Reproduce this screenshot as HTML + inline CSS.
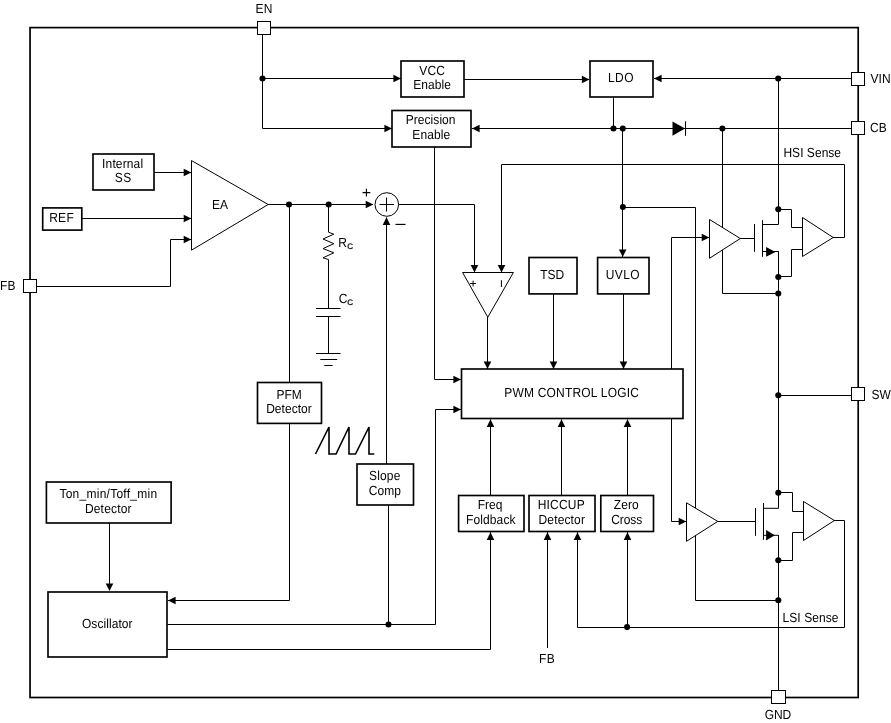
<!DOCTYPE html>
<html><head><meta charset="utf-8"><title>Functional Block Diagram</title>
<style>
html,body{margin:0;padding:0;background:#fff;}
svg{display:block;will-change:transform;}
svg text{font-family:"Liberation Sans",Arial,Helvetica,sans-serif;font-size:12px;fill:#000;text-rendering:geometricPrecision;}
</style></head><body>
<svg width="891" height="723" viewBox="0 0 891 723">
<rect x="0" y="0" width="891" height="723" fill="#fff"/>
<rect x="30.05" y="27.6" width="828.15" height="669.9" fill="none" stroke="#000" stroke-width="1.7"/>
<path d="M262.5 28 L262.5 128.5 L392 128.5" fill="none" stroke="#000" stroke-width="1" />
<path d="M262.5 78.5 L401 78.5" fill="none" stroke="#000" stroke-width="1" />
<circle cx="262.5" cy="78.5" r="3.05" fill="#000"/>
<polygon points="401,78.5 393.4,74.7 393.4,82.3" fill="#000"/>
<polygon points="392,128.5 384.4,124.7 384.4,132.3" fill="#000"/>
<path d="M464 79.5 L589 79.5" fill="none" stroke="#000" stroke-width="1" />
<polygon points="589.5,79.5 581.9,75.7 581.9,83.3" fill="#000"/>
<path d="M858 78.5 L654 78.5" fill="none" stroke="#000" stroke-width="1" />
<polygon points="654,78.5 661.6,74.7 661.6,82.3" fill="#000"/>
<circle cx="778.2" cy="78.6" r="3.05" fill="#000"/>
<path d="M778.5 78.5 L778.5 209.5" fill="none" stroke="#000" stroke-width="1" />
<path d="M613.5 97 L613.5 128.5" fill="none" stroke="#000" stroke-width="1" />
<path d="M858 128.5 L472 128.5" fill="none" stroke="#000" stroke-width="1" />
<polygon points="472,128.5 479.6,124.7 479.6,132.3" fill="#000"/>
<circle cx="613.5" cy="128.5" r="3.05" fill="#000"/>
<circle cx="622.8" cy="128.6" r="3.05" fill="#000"/>
<circle cx="722.4" cy="128.6" r="3.05" fill="#000"/>
<polygon points="672.5,121.5 672.5,135.8 685,128.5" fill="#000"/>
<path d="M685.5 121.3 L685.5 135.8" fill="none" stroke="#000" stroke-width="1" />
<path d="M622.5 128.5 L622.5 257" fill="none" stroke="#000" stroke-width="1" />
<polygon points="622.7,257 618.9000000000001,249.4 626.5,249.4" fill="#000"/>
<circle cx="622.9" cy="207.1" r="3.0" fill="#000"/>
<path d="M622.5 207.5 L695.5 207.5 L695.5 600.5 L778.5 600.5" fill="none" stroke="#000" stroke-width="1" />
<path d="M722.5 128.5 L722.5 293.5 L778.5 293.5" fill="none" stroke="#000" stroke-width="1" />
<path d="M833 237.5 L844.5 237.5 L844.5 164.5 L501.5 164.5 L501.5 272" fill="none" stroke="#000" stroke-width="1" />
<polygon points="501.5,272.5 497.7,264.9 505.3,264.9" fill="#000"/>
<path d="M154 172.5 L191 172.5" fill="none" stroke="#000" stroke-width="1" />
<polygon points="191.3,172.5 183.70000000000002,168.7 183.70000000000002,176.3" fill="#000"/>
<path d="M82 218.5 L191 218.5" fill="none" stroke="#000" stroke-width="1" />
<polygon points="191.3,218.5 183.70000000000002,214.7 183.70000000000002,222.3" fill="#000"/>
<path d="M30 286.5 L170.5 286.5 L170.5 239.5 L191 239.5" fill="none" stroke="#000" stroke-width="1" />
<polygon points="191.3,239.5 183.70000000000002,235.7 183.70000000000002,243.3" fill="#000"/>
<path d="M268 204.5 L373 204.5" fill="none" stroke="#000" stroke-width="1" />
<polygon points="373.3,204.5 365.7,200.7 365.7,208.3" fill="#000"/>
<circle cx="289" cy="204.5" r="3.05" fill="#000"/>
<circle cx="328.7" cy="204.5" r="3.05" fill="#000"/>
<path d="M289.5 204.5 L289.5 600.5 L168 600.5" fill="none" stroke="#000" stroke-width="1" />
<polygon points="168,600.5 175.6,596.7 175.6,604.3" fill="#000"/>
<path d="M328.5 204.5 L328.5 232.2 L333.8 234.2 L323 239 L333.8 243.7 L323 248.6 L333.8 252.8 L323 257.8 L328.5 259.6 L328.5 308.5" fill="none" stroke="#000" stroke-width="1" />
<path d="M316 308.5 L340.5 308.5" fill="none" stroke="#000" stroke-width="1" />
<path d="M316 316.5 L340.5 316.5" fill="none" stroke="#000" stroke-width="1" />
<path d="M328.5 316.5 L328.5 353.5" fill="none" stroke="#000" stroke-width="1" />
<path d="M316 353.5 L340.5 353.5" fill="none" stroke="#000" stroke-width="1" />
<path d="M320.3 359.5 L337.2 359.5" fill="none" stroke="#000" stroke-width="1" />
<path d="M324.3 365.5 L332.6 365.5" fill="none" stroke="#000" stroke-width="1" />
<circle cx="386.8" cy="204.5" r="11.8" fill="#fff" stroke="#000" stroke-width="1"/>
<path d="M379.5 204.5 L394 204.5" fill="none" stroke="#000" stroke-width="1" />
<path d="M386.5 197.5 L386.5 211.5" fill="none" stroke="#000" stroke-width="1" />
<path d="M398.6 204.5 L474.5 204.5 L474.5 272" fill="none" stroke="#000" stroke-width="1" />
<polygon points="474.5,272.5 470.7,264.9 478.3,264.9" fill="#000"/>
<path d="M386.5 464 L386.5 217.5" fill="none" stroke="#000" stroke-width="1" />
<polygon points="386.5,217.3 382.7,224.9 390.3,224.9" fill="#000"/>
<path d="M388.5 505 L388.5 624.5" fill="none" stroke="#000" stroke-width="1" />
<path d="M167.5 624.5 L435.5 624.5 L435.5 409.5 L461 409.5" fill="none" stroke="#000" stroke-width="1" />
<polygon points="461,409.5 453.4,405.7 453.4,413.3" fill="#000"/>
<circle cx="388.5" cy="624.5" r="3.05" fill="#000"/>
<path d="M167.5 649.5 L490.5 649.5 L490.5 532" fill="none" stroke="#000" stroke-width="1" />
<polygon points="490.5,532.3 486.7,539.9 494.3,539.9" fill="#000"/>
<path d="M434.5 147 L434.5 379.5 L461 379.5" fill="none" stroke="#000" stroke-width="1" />
<polygon points="461,379.5 453.4,375.7 453.4,383.3" fill="#000"/>
<path d="M487.5 317 L487.5 369" fill="none" stroke="#000" stroke-width="1" />
<polygon points="487.5,369 483.7,361.4 491.3,361.4" fill="#000"/>
<path d="M553.5 293.5 L553.5 369" fill="none" stroke="#000" stroke-width="1" />
<polygon points="553.5,369 549.7,361.4 557.3,361.4" fill="#000"/>
<path d="M623.5 293.5 L623.5 369" fill="none" stroke="#000" stroke-width="1" />
<polygon points="623.5,369 619.7,361.4 627.3,361.4" fill="#000"/>
<path d="M490.5 495.5 L490.5 419.5" fill="none" stroke="#000" stroke-width="1" />
<polygon points="490.5,419.3 486.7,426.90000000000003 494.3,426.90000000000003" fill="#000"/>
<path d="M561.5 495.5 L561.5 419.5" fill="none" stroke="#000" stroke-width="1" />
<polygon points="561.5,419.3 557.7,426.90000000000003 565.3,426.90000000000003" fill="#000"/>
<path d="M627.5 495.5 L627.5 419.5" fill="none" stroke="#000" stroke-width="1" />
<polygon points="627.5,419.3 623.7,426.90000000000003 631.3,426.90000000000003" fill="#000"/>
<path d="M547.5 648 L547.5 532" fill="none" stroke="#000" stroke-width="1" />
<polygon points="547.5,532.3 543.7,539.9 551.3,539.9" fill="#000"/>
<path d="M834 520.5 L844.5 520.5 L844.5 627.5 L577.5 627.5 L577.5 532" fill="none" stroke="#000" stroke-width="1" />
<polygon points="577.5,532.3 573.7,539.9 581.3,539.9" fill="#000"/>
<path d="M627.5 627.5 L627.5 532" fill="none" stroke="#000" stroke-width="1" />
<polygon points="627.5,532.3 623.7,539.9 631.3,539.9" fill="#000"/>
<circle cx="627.1" cy="627.1" r="3.05" fill="#000"/>
<path d="M109.5 523 L109.5 590" fill="none" stroke="#000" stroke-width="1" />
<polygon points="109.5,591 105.7,583.4 113.3,583.4" fill="#000"/>
<path d="M671.5 369.5 L671.5 237.5 L709 237.5" fill="none" stroke="#000" stroke-width="1" />
<polygon points="709.3,237.5 701.6999999999999,233.7 701.6999999999999,241.3" fill="#000"/>
<path d="M671.5 418.5 L671.5 521.5 L686 521.5" fill="none" stroke="#000" stroke-width="1" />
<polygon points="686.3,521.5 678.6999999999999,517.7 678.6999999999999,525.3" fill="#000"/>
<path d="M778.5 251.5 L778.5 508" fill="none" stroke="#000" stroke-width="1" />
<path d="M778.5 535 L778.5 697" fill="none" stroke="#000" stroke-width="1" />
<path d="M778.5 395.5 L851 395.5" fill="none" stroke="#000" stroke-width="1" />
<circle cx="778.3" cy="395.2" r="3.05" fill="#000"/>
<circle cx="778.3" cy="293.5" r="3.05" fill="#000"/>
<circle cx="778.3" cy="600.3" r="3.05" fill="#000"/>
<path d="M740 238.5 L754.5 238.5" fill="none" stroke="#000" stroke-width="1" />
<path d="M754.5 224 L754.5 251.8" fill="none" stroke="#000" stroke-width="1" />
<path d="M762.5 220.2 L762.5 256.8" fill="none" stroke="#000" stroke-width="1" />
<path d="M762.5 224.5 L778.5 224.5 L778.5 209.5" fill="none" stroke="#000" stroke-width="1" />
<path d="M762.5 251.5 L778.5 251.5 L778.5 277" fill="none" stroke="#000" stroke-width="1" />
<polygon points="766.1,247.1 766.1,256.8 775.5,251.9" fill="#000"/>
<circle cx="778.3" cy="209.3" r="3.05" fill="#000"/>
<circle cx="778.3" cy="277" r="3.05" fill="#000"/>
<path d="M778.5 209.5 L791.5 209.5 L791.5 227.5 L803 227.5" fill="none" stroke="#000" stroke-width="1" />
<path d="M778.5 276.5 L791.5 276.5 L791.5 249.5 L803 249.5" fill="none" stroke="#000" stroke-width="1" />
<path d="M717.5 521.5 L755.5 521.5" fill="none" stroke="#000" stroke-width="1" />
<path d="M755.5 508 L755.5 535.8" fill="none" stroke="#000" stroke-width="1" />
<path d="M763.5 503 L763.5 539.8" fill="none" stroke="#000" stroke-width="1" />
<path d="M763.5 508.3 L778.5 508.3 L778.5 493" fill="none" stroke="#000" stroke-width="1" />
<path d="M763.5 535.3 L778.5 535.3 L778.5 560" fill="none" stroke="#000" stroke-width="1" />
<polygon points="766.1,530.1 766.1,540.5 774.8,535.3" fill="#000"/>
<circle cx="778.3" cy="492.8" r="3.05" fill="#000"/>
<circle cx="778.3" cy="560.2" r="3.05" fill="#000"/>
<path d="M778.5 492.5 L792.5 492.5 L792.5 511.5 L803 511.5" fill="none" stroke="#000" stroke-width="1" />
<path d="M778.5 560.5 L792.5 560.5 L792.5 532.5 L803 532.5" fill="none" stroke="#000" stroke-width="1" />
<polygon points="191.5,160.6 191.5,250.2 268.2,204.5" fill="#fff" stroke="#000" stroke-width="1"/>
<polygon points="462.6,272.5 513.4,272.5 487.8,317.2" fill="#fff" stroke="#000" stroke-width="1"/>
<polygon points="709.5,219.5 709.5,258.3 740.3,238.5" fill="#fff" stroke="#000" stroke-width="1"/>
<polygon points="802.5,217.5 802.5,256.5 833.2,237.5" fill="#fff" stroke="#000" stroke-width="1"/>
<polygon points="686.5,502.8 686.5,541.3 717.8,521.4" fill="#fff" stroke="#000" stroke-width="1"/>
<polygon points="803.5,501.5 803.5,540.5 834.4,520.5" fill="#fff" stroke="#000" stroke-width="1"/>
<path d="M470.2 283.5 L476 283.5" fill="none" stroke="#000" stroke-width="1" />
<path d="M473.1 280.7 L473.1 286.4" fill="none" stroke="#000" stroke-width="1" />
<path d="M501.4 280.2 L501.4 287" fill="none" stroke="#000" stroke-width="1" />
<path d="M315.5 454 L329 427 L329 454 L336 454 L349 427 L349 454 L355.5 454 L369 427 L369 454 L374.3 454" fill="none" stroke="#000" stroke-width="1.6" />
<rect x="93" y="154" width="61" height="36" fill="#fff" stroke="#000" stroke-width="1.65"/>
<rect x="42.7" y="207.9" width="39.099999999999994" height="22.19999999999999" fill="#fff" stroke="#000" stroke-width="1.65"/>
<rect x="401" y="61" width="63" height="36" fill="#fff" stroke="#000" stroke-width="1.65"/>
<rect x="392" y="110.5" width="79" height="36.5" fill="#fff" stroke="#000" stroke-width="1.65"/>
<rect x="590" y="61" width="63" height="36" fill="#fff" stroke="#000" stroke-width="1.65"/>
<rect x="529" y="257.5" width="48" height="36.39999999999998" fill="#fff" stroke="#000" stroke-width="1.65"/>
<rect x="597.6" y="257.5" width="51.39999999999998" height="36.39999999999998" fill="#fff" stroke="#000" stroke-width="1.65"/>
<rect x="461.5" y="369.0" width="221.5" height="49.5" fill="#fff" stroke="#000" stroke-width="1.65"/>
<rect x="257.5" y="382.5" width="64.0" height="40.89999999999998" fill="#fff" stroke="#000" stroke-width="1.65"/>
<rect x="357" y="464" width="56.5" height="41" fill="#fff" stroke="#000" stroke-width="1.65"/>
<rect x="46.4" y="482" width="124.69999999999999" height="41" fill="#fff" stroke="#000" stroke-width="1.65"/>
<rect x="48" y="592" width="119" height="65" fill="#fff" stroke="#000" stroke-width="1.65"/>
<rect x="458.6" y="495.5" width="65.39999999999998" height="36.0" fill="#fff" stroke="#000" stroke-width="1.65"/>
<rect x="529" y="495.5" width="66" height="36.0" fill="#fff" stroke="#000" stroke-width="1.65"/>
<rect x="600.8" y="495.5" width="52.700000000000045" height="36.0" fill="#fff" stroke="#000" stroke-width="1.65"/>
<rect x="257.5" y="21.5" width="13" height="13" fill="#fff" stroke="#000" stroke-width="1"/>
<rect x="23.5" y="279.5" width="13" height="13" fill="#fff" stroke="#000" stroke-width="1"/>
<rect x="851.5" y="72.5" width="13" height="13" fill="#fff" stroke="#000" stroke-width="1"/>
<rect x="851.5" y="121.5" width="13" height="13" fill="#fff" stroke="#000" stroke-width="1"/>
<rect x="851.5" y="387.5" width="13" height="13" fill="#fff" stroke="#000" stroke-width="1"/>
<rect x="771.5" y="690.5" width="14" height="13" fill="#fff" stroke="#000" stroke-width="1"/>
<text transform="translate(102.10,167.70) scale(1,1.1)" textLength="41.01" lengthAdjust="spacing">Internal</text>
<text transform="translate(114.66,181.80) scale(1,1.1)" textLength="16.67" lengthAdjust="spacing">SS</text>
<text transform="translate(49.20,221.60) scale(1,1.1)" textLength="24.55" lengthAdjust="spacing">REF</text>
<text transform="translate(212.00,208.60) scale(1,1.1)" textLength="16.13" lengthAdjust="spacing">EA</text>
<text transform="translate(419.16,74.60) scale(1,1.1)" textLength="25.78" lengthAdjust="spacing">VCC</text>
<text transform="translate(413.20,89.20) scale(1,1.1)" textLength="37.87" lengthAdjust="spacing">Enable</text>
<text transform="translate(405.70,124.20) scale(1,1.1)" textLength="49.86" lengthAdjust="spacing">Precision</text>
<text transform="translate(412.30,138.60) scale(1,1.1)" textLength="37.77" lengthAdjust="spacing">Enable</text>
<text transform="translate(607.90,82.20) scale(1,1.1)" textLength="25.69" lengthAdjust="spacing">LDO</text>
<text transform="translate(540.14,278.80) scale(1,1.1)" textLength="24.01" lengthAdjust="spacing">TSD</text>
<text transform="translate(605.85,278.80) scale(1,1.1)" textLength="33.64" lengthAdjust="spacing">UVLO</text>
<text transform="translate(504.20,396.80) scale(1,1.1)" textLength="134.82" lengthAdjust="spacing">PWM CONTROL LOGIC</text>
<text transform="translate(276.50,398.70) scale(1,1.1)" textLength="25.22" lengthAdjust="spacing">PFM</text>
<text transform="translate(266.20,413.00) scale(1,1.1)" textLength="45.53" lengthAdjust="spacing">Detector</text>
<text transform="translate(368.96,480.30) scale(1,1.1)" textLength="31.44" lengthAdjust="spacing">Slope</text>
<text transform="translate(368.83,494.60) scale(1,1.1)" textLength="32.20" lengthAdjust="spacing">Comp</text>
<text transform="translate(59.44,498.30) scale(1,1.1)" textLength="97.66" lengthAdjust="spacing">Ton_min/Toff_min</text>
<text transform="translate(84.90,512.70) scale(1,1.1)" textLength="46.73" lengthAdjust="spacing">Detector</text>
<text transform="translate(81.98,627.50) scale(1,1.1)" textLength="50.57" lengthAdjust="spacing">Oscillator</text>
<text transform="translate(477.70,508.90) scale(1,1.1)">Freq</text>
<text transform="translate(466.00,523.80) scale(1,1.1)" textLength="49.51" lengthAdjust="spacing">Foldback</text>
<text transform="translate(537.70,508.80) scale(1,1.1)" textLength="47.03" lengthAdjust="spacing">HICCUP</text>
<text transform="translate(538.50,523.80) scale(1,1.1)" textLength="46.43" lengthAdjust="spacing">Detector</text>
<text transform="translate(613.69,509.10) scale(1,1.1)" textLength="25.11" lengthAdjust="spacing">Zero</text>
<text transform="translate(611.23,523.50) scale(1,1.1)" textLength="30.93" lengthAdjust="spacing">Cross</text>
<text transform="translate(255.60,12.90) scale(1,1.1)" textLength="16.87" lengthAdjust="spacing">EN</text>
<text transform="translate(0.05,289.90) scale(1,1.1)" textLength="15.53" lengthAdjust="spacing">FB</text>
<text transform="translate(870.56,83.20) scale(1,1.1)" textLength="20.15" lengthAdjust="spacing">VIN</text>
<text transform="translate(870.03,131.80) scale(1,1.1)">CB</text>
<text transform="translate(871.46,398.50) scale(1,1.1)">SW</text>
<text transform="translate(764.82,719.40) scale(1,1.1)" textLength="26.35" lengthAdjust="spacing">GND</text>
<text transform="translate(539.10,662.70) scale(1,1.1)" textLength="15.58" lengthAdjust="spacing">FB</text>
<text transform="translate(783.40,156.70) scale(1,1.1)" textLength="57.67" lengthAdjust="spacing">HSI Sense</text>
<text transform="translate(782.60,621.90) scale(1,1.1)" textLength="55.77" lengthAdjust="spacing">LSI Sense</text>
<text transform="translate(338.30,246.80) scale(1,1.1)">R</text>
<text x="347.2" y="248.6" text-anchor="start" style="font-size:8px;stroke:#000;stroke-width:0.25px">C</text>
<text transform="translate(338.63,303.20) scale(1,1.1)">C</text>
<text x="347.2" y="305.0" text-anchor="start" style="font-size:8px;stroke:#000;stroke-width:0.25px">C</text>
<text x="366.5" y="198.2" text-anchor="middle" style="font-size:16px">+</text>
<text x="400.5" y="228.85" text-anchor="middle" style="font-size:18px">&#8211;</text>
</svg>
</body></html>
